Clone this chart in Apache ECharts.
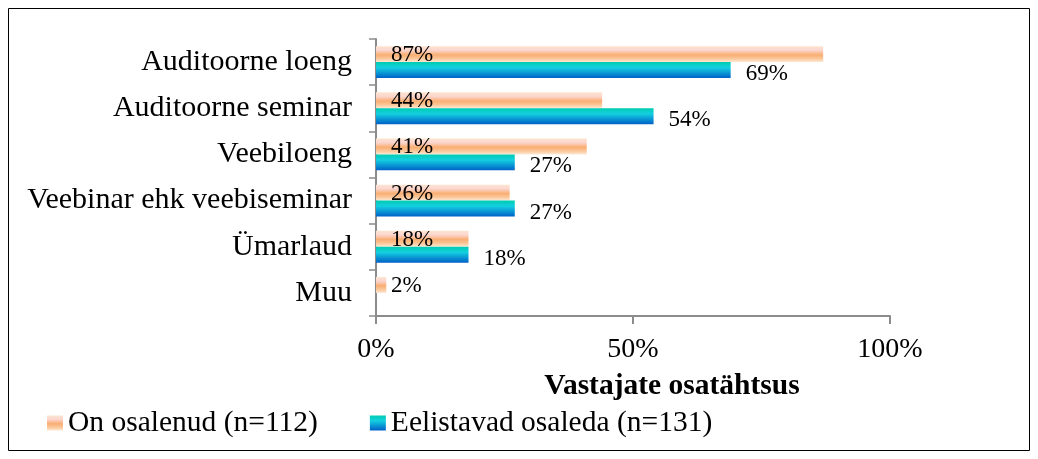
<!DOCTYPE html>
<html>
<head>
<meta charset="utf-8">
<script src="https://cdn.jsdelivr.net/npm/echarts@6/dist/echarts.min.js"></script>
<style>
  html, body { margin: 0; padding: 0; background: #fff; }
  #chart { width: 1038px; height: 459px; }
</style>
</head>
<body>
<div id="chart"></div>
<script>
// andmed
var categories = ["Auditoorne loeng", "Auditoorne seminar", "Veebiloeng", "Veebinar ehk veebiseminar", "Ümarlaud", "Muu"];
var osalenud = [87, 44, 41, 26, 18, 2];      // On osalenud (n=112)
var eelistavad = [69, 54, 27, 27, 18, null]; // Eelistavad osaleda (n=131)
var seriesNames = ["On osalenud (n=112)", "Eelistavad osaleda (n=131)"];
var xTicks = [0, 50, 100];

var font = "Liberation Serif";

var orangeGrad = new echarts.graphic.LinearGradient(0, 0, 0, 1, [
  { offset: 0, color: "#fde4cf" },
  { offset: 0.25, color: "#fcd6d0" },
  { offset: 0.55, color: "#f9ae72" },
  { offset: 0.8, color: "#fbc99c" },
  { offset: 1, color: "#fde9d6" }
]);
var blueGrad = new echarts.graphic.LinearGradient(0, 0, 0, 1, [
  { offset: 0, color: "#00ccb0" },
  { offset: 0.35, color: "#14cfe0" },
  { offset: 1, color: "#0060c8" }
]);

var chart = echarts.init(document.getElementById("chart"));
chart.setOption({
  animation: false,
  textStyle: { fontFamily: font, color: "#000" },
  graphic: [{
    type: "rect",
    shape: { x: 8.5, y: 8.5, width: 1021, height: 442 },
    style: { fill: "none", stroke: "#000", lineWidth: 1 },
    silent: true
  }],
  legend: {
    left: 42,
    top: 403,
    icon: "rect",
    itemWidth: 16,
    itemHeight: 15,
    itemGap: 52,
    textStyle: { fontFamily: font, fontSize: 29.5, color: "#000" },
    data: seriesNames
  },
  grid: { left: 376, right: 148, top: 39, bottom: 143 },
  xAxis: {
    type: "value",
    min: xTicks[0],
    max: xTicks[xTicks.length - 1],
    interval: 50,
    name: "Vastajate osatähtsus",
    nameLocation: "middle",
    nameGap: 55,
    nameTextStyle: { fontFamily: font, fontSize: 29.5, fontWeight: "bold", color: "#000", padding: [0, 0, 0, 78] },
    axisLine: { show: true, lineStyle: { color: "#8c8c8c", width: 2 } },
    axisTick: { show: true, length: 8, inside: false, lineStyle: { color: "#8c8c8c", width: 2 } },
    axisLabel: { formatter: "{value}%", fontSize: 28, color: "#000", margin: 20 },
    splitLine: { show: false }
  },
  yAxis: {
    type: "category",
    inverse: true,
    data: categories,
    axisLine: { show: true, lineStyle: { color: "#8c8c8c", width: 2 } },
    axisTick: { show: true, length: 7, lineStyle: { color: "#8c8c8c", width: 1.5 } },
    axisLabel: { fontSize: 30, color: "#000", margin: 24 }
  },
  series: [
    {
      name: seriesNames[0],
      type: "bar",
      data: osalenud,
      barGap: "0%",
      barCategoryGap: "31%",
      itemStyle: { color: orangeGrad },
      label: {
        show: true,
        position: "insideLeft",
        distance: 15,
        offset: [0, 1],
        formatter: "{c}%",
        fontFamily: font,
        fontSize: 23,
        color: "#000"
      }
    },
    {
      name: seriesNames[1],
      type: "bar",
      data: eelistavad,
      barGap: "0%",
      barCategoryGap: "31%",
      itemStyle: { color: blueGrad },
      label: {
        show: true,
        position: "right",
        distance: 15,
        offset: [0, 4],
        formatter: "{c}%",
        fontFamily: font,
        fontSize: 23,
        color: "#000"
      }
    }
  ]
});
</script>
</body>
</html>
